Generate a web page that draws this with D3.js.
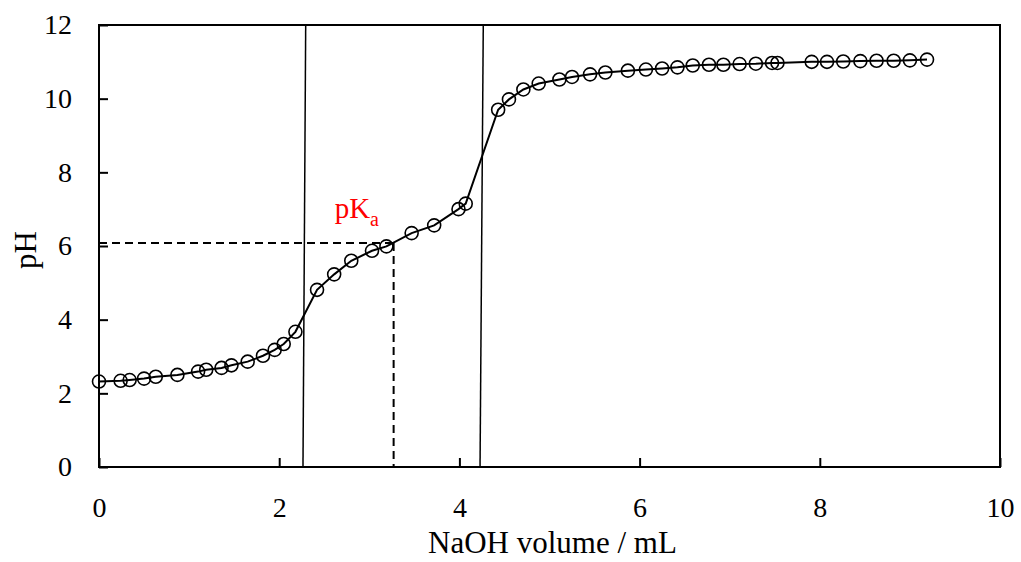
<!DOCTYPE html>
<html>
<head>
<meta charset="utf-8">
<script src="https://cdn.jsdelivr.net/npm/d3@7"></script>
<style>
  html, body { margin: 0; padding: 0; background: #fff; }
  svg { display: block; }
</style>
</head>
<body>
<svg id="chart" width="1021" height="562"></svg>
<script>
// ---- data ----
const volume = [0, 0.24, 0.34, 0.50, 0.63, 0.87, 1.10, 1.19, 1.36, 1.47,
  1.65, 1.82, 1.95, 2.05, 2.18, 2.42, 2.61, 2.80, 3.03, 3.19,
  3.47, 3.72, 3.99, 4.07, 4.43, 4.55, 4.71, 4.88, 5.11, 5.25,
  5.45, 5.62, 5.87, 6.07, 6.25, 6.42, 6.59, 6.77, 6.93, 7.11,
  7.29, 7.47, 7.53, 7.91, 8.08, 8.26, 8.45, 8.63, 8.82, 9.00, 9.19];
const pH = [2.32, 2.34, 2.36, 2.40, 2.45, 2.50, 2.59, 2.64, 2.69, 2.76,
  2.86, 3.02, 3.18, 3.34, 3.67, 4.81, 5.23, 5.60, 5.87, 5.99,
  6.35, 6.56, 7.00, 7.15, 9.70, 9.98, 10.25, 10.41, 10.52, 10.59,
  10.66, 10.71, 10.76, 10.79, 10.82, 10.85, 10.90, 10.92, 10.92, 10.94,
  10.95, 10.97, 10.97, 11.00, 11.00, 11.01, 11.02, 11.03, 11.03, 11.04, 11.06];
const xTicks = [0, 2, 4, 6, 8, 10];
const yTicks = [0, 2, 4, 6, 8, 10, 12];
// equivalence-point guide lines: [x at pH 0, x at pH 12]
const equivLine1 = [2.264, 2.294];
const equivLine2 = [4.229, 4.265];
// half-equivalence point (pKa)
const pKaPoint = [3.27, 6.08];

// ---- layout ----
const FONT = "'Liberation Serif', 'DejaVu Serif', serif";
const W = 1021, H = 562;
const margin = {left: 99, right: 21, top: 25, bottom: 95};
const iw = W - margin.left - margin.right;
const ih = H - margin.top - margin.bottom;

const svg = d3.select("#chart");
const g = svg.append("g").attr("transform", `translate(${margin.left},${margin.top})`);

const x = d3.scaleLinear().domain([0, 10]).range([0, iw]);
const y = d3.scaleLinear().domain([0, 12]).range([ih, 0]);

// axes
const xAxis = d3.axisBottom(x).tickValues(xTicks).tickSizeInner(-9).tickSizeOuter(0).tickPadding(30);
const yAxis = d3.axisLeft(y).tickValues(yTicks).tickSizeInner(-9).tickSizeOuter(0).tickPadding(27);

const gx = g.append("g").attr("transform", `translate(0,${ih})`).call(xAxis);
const gy = g.append("g").call(yAxis);
[gx, gy].forEach(a => {
  a.attr("font-family", null).attr("font-size", null);
  a.select(".domain").remove();
  a.selectAll(".tick line").attr("stroke", "#000").attr("stroke-width", 2);
  a.selectAll(".tick text").attr("fill", "#000")
    .style("font-family", FONT).style("font-size", "28px");
});

// guide lines
g.append("line")
  .attr("x1", x(equivLine1[0])).attr("y1", y(0))
  .attr("x2", x(equivLine1[1])).attr("y2", y(12))
  .attr("stroke", "#000").attr("stroke-width", 1.5);
g.append("line")
  .attr("x1", x(equivLine2[0])).attr("y1", y(0))
  .attr("x2", x(equivLine2[1])).attr("y2", y(12))
  .attr("stroke", "#000").attr("stroke-width", 1.5);

// dashed pKa lines
g.append("line")
  .attr("x1", x(0)).attr("y1", y(pKaPoint[1]))
  .attr("x2", x(pKaPoint[0])).attr("y2", y(pKaPoint[1]))
  .attr("stroke", "#000").attr("stroke-width", 2).attr("stroke-dasharray", "8,5");
g.append("line")
  .attr("x1", x(pKaPoint[0])).attr("y1", y(pKaPoint[1]))
  .attr("x2", x(pKaPoint[0])).attr("y2", y(0))
  .attr("stroke", "#000").attr("stroke-width", 2).attr("stroke-dasharray", "8,5");

// box
g.append("rect").attr("x", 0).attr("y", 0).attr("width", iw).attr("height", ih)
  .attr("fill", "none").attr("stroke", "#000").attr("stroke-width", 2);

// curve
const pts = volume.map((v, i) => [v, pH[i]]);
g.append("path")
  .datum(pts)
  .attr("fill", "none").attr("stroke", "#000").attr("stroke-width", 2)
  .attr("d", d3.line().x(d => x(d[0])).y(d => y(d[1])));

g.selectAll("circle.pt").data(pts).enter().append("circle")
  .attr("class", "pt")
  .attr("cx", d => x(d[0])).attr("cy", d => y(d[1]))
  .attr("r", 6.5)
  .attr("fill", "none").attr("stroke", "#000").attr("stroke-width", 1.6);

// pKa label
const lab = g.append("text")
  .attr("x", x(pKaPoint[0]) - 59).attr("y", y(pKaPoint[1]) - 25)
  .attr("fill", "#ff0000").style("font-family", FONT).style("font-size", "29px");
lab.append("tspan").text("pK");
lab.append("tspan").attr("dy", 8).style("font-size", "20px").text("a");

// axis titles
svg.append("text")
  .attr("x", margin.left + iw / 2 + 3).attr("y", 553)
  .attr("text-anchor", "middle").style("font-family", FONT).style("font-size", "31px").attr("fill", "#000")
  .text("NaOH volume / mL");
svg.append("text")
  .attr("transform", `translate(36,${margin.top + ih / 2 + 4}) rotate(-90)`)
  .attr("text-anchor", "middle").style("font-family", FONT).style("font-size", "31px").attr("fill", "#000")
  .text("pH");
</script>
</body>
</html>
